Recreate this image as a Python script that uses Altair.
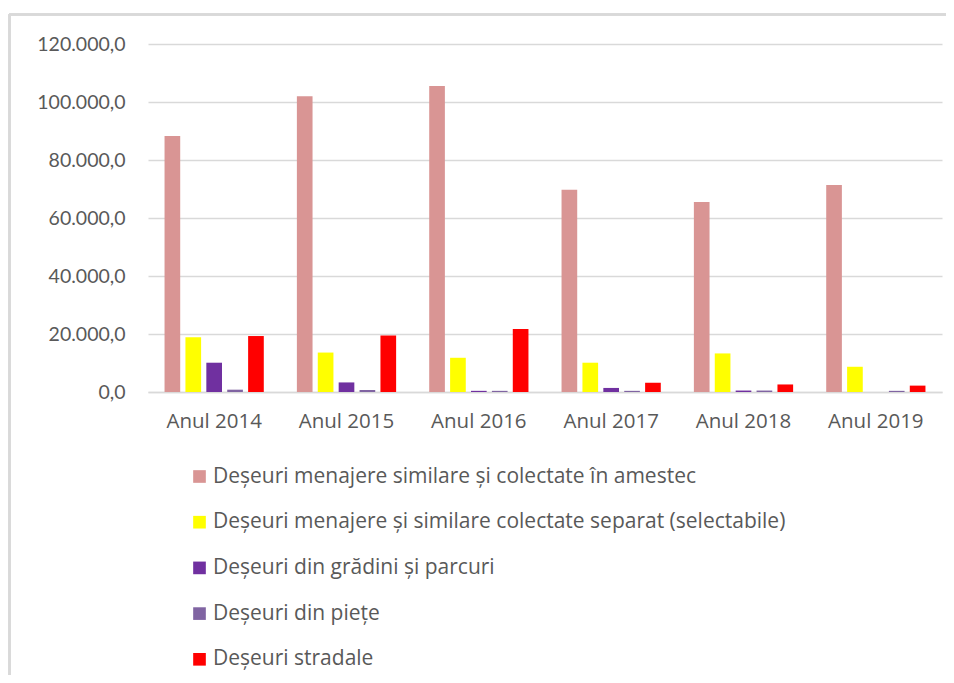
import altair as alt
import pandas as pd

years = ["Anul 2014", "Anul 2015", "Anul 2016", "Anul 2017", "Anul 2018", "Anul 2019"]
series = [
    "Deșeuri menajere similare și colectate în amestec",
    "Deșeuri menajere și similare colectate separat (selectabile)",
    "Deșeuri din grădini și parcuri",
    "Deșeuri din piețe",
    "Deșeuri stradale",
]
amestec = [88300, 102000, 105500, 69700, 65500, 71400]
separat = [18900, 13600, 11800, 10100, 13300, 8700]
gradini = [10100, 3300, 400, 1400, 500, 0]
piete = [800, 700, 400, 400, 500, 400]
stradale = [19300, 19500, 21700, 3200, 2600, 2200]
colors = ["#D99594", "#FFFF00", "#7030A0", "#8064A2", "#FF0000"]

values = [amestec, separat, gradini, piete, stradale]
rows = []
for s, vals in zip(series, values):
    for y, v in zip(years, vals):
        rows.append({"An": y, "Serie": s, "Valoare": v})
df = pd.DataFrame(rows)

FONT = "Lato"
TFONT = "Open Sans"
TXT = "#595959"

bars = alt.Chart(df).mark_bar().encode(
    x=alt.X("An:N", sort=years, title=None,
            scale=alt.Scale(paddingInner=0.25, paddingOuter=0.125),
            axis=alt.Axis(labelAngle=0, ticks=False, domain=True, domainColor="#d9d9d9",
                          domainWidth=1.5,
                          labelFontSize=20.5, labelColor=TXT, labelFont=TFONT, labelPadding=19,
                          grid=False)),
    xOffset=alt.XOffset("Serie:N", sort=series, scale=alt.Scale(paddingInner=0.25)),
    y=alt.Y("Valoare:Q", title=None,
            scale=alt.Scale(domain=[0, 120000]),
            axis=alt.Axis(values=[0, 20000, 40000, 60000, 80000, 100000, 120000],
                          format=",.1f", ticks=False, domain=False, gridColor="#d9d9d9",
                          labelFontSize=19.5, labelColor=TXT, labelFont=FONT, labelPadding=23)),
    color=alt.Color("Serie:N", sort=series,
                    scale=alt.Scale(domain=series, range=colors),
                    legend=alt.Legend(title=None, orient="none", legendX=41, legendY=422,
                                      symbolType="square", symbolSize=160, symbolStrokeWidth=0,
                                      labelFontSize=21, labelColor=TXT, labelFont=TFONT,
                                      rowPadding=23.7, labelOffset=3, padding=0, labelLimit=800)),
)

frame_top = alt.Chart(df).mark_rule(color="#d9d9d9", strokeWidth=2).encode(
    x=alt.value(-138.5), x2=alt.value(810), y=alt.value(-29.5))
frame_left = alt.Chart(df).mark_rule(color="#d9d9d9", strokeWidth=2).encode(
    x=alt.value(-138.5), y=alt.value(-29.5), y2=alt.value(640))

chart = alt.layer(frame_top, frame_left, bars).properties(
    width=794, height=348,
    autosize=alt.AutoSizeParams(type="none"),
    padding={"left": 140, "top": 36, "right": 4, "bottom": 283},
).configure(
    locale={"number": {"decimal": ",", "thousands": ".", "grouping": [3], "currency": ["", ""]}},
).configure_view(stroke=None).configure_axis(gridWidth=1.5)

chart.save("out.html", embed_options={"renderer": "svg", "actions": False})
